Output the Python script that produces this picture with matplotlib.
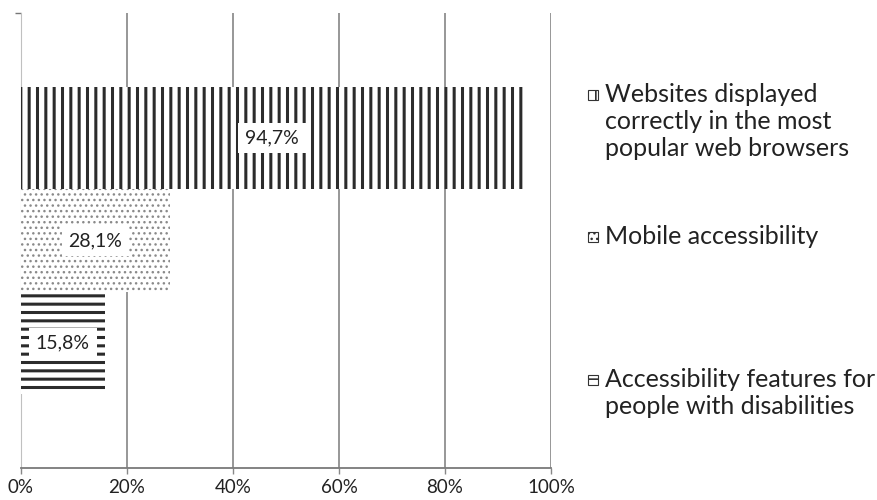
import matplotlib
matplotlib.use("Agg")
import matplotlib.pyplot as plt
from matplotlib.patches import Rectangle

# Data
series = [
    "Websites displayed\ncorrectly in the most\npopular web browsers",
    "Mobile accessibility",
    "Accessibility features for\npeople with disabilities",
]
values = [94.7, 28.1, 15.8]
value_labels = ["94,7%", "28,1%", "15,8%"]
xticks = [0, 20, 40, 60, 80, 100]
xtick_labels = ["0%", "20%", "40%", "60%", "80%", "100%"]

# Styles per series
hatches = ["||", "...", "--"]
hatch_colors = ["#2b2b2b", "#8a8a8a", "#2b2b2b"]
hatch_widths = [2.2, 1.0, 2.2]
offsets = [0.225, 0.0, -0.225]
bar_h = 0.225

plt.rcParams["font.family"] = ["Lato", "DejaVu Sans"]

fig = plt.figure(figsize=(8.78, 5.0), dpi=100)
ax = fig.add_axes([21 / 878, 32 / 500, 530 / 878, 455 / 500])

for v, off, h, hc, hw, lab in zip(values, offsets, hatches, hatch_colors,
                                  hatch_widths, value_labels):
    with plt.rc_context({"hatch.linewidth": hw, "hatch.color": hc}):
        bars = ax.barh(off, v, height=bar_h, color="white", edgecolor=hc,
                       linewidth=0, hatch=h, zorder=3)
        for b in bars:
            if hasattr(b, "set_hatch_linewidth"):
                b.set_hatch_linewidth(hw)
    ax.text(v / 2, off, lab, ha="center", va="center", fontsize=14,
            color="#222222", zorder=5,
            bbox=dict(boxstyle="square,pad=0.35", fc="white", ec="none"))

ax.set_xlim(0, 100)
ax.set_ylim(-0.5, 0.5)
ax.set_xticks(xticks)
ax.set_xticklabels(xtick_labels, fontsize=13.5, color="#222222")
ax.set_yticks([0.5])
ax.set_yticklabels([])
ax.tick_params(axis="y", length=4, color="#777777", width=1)
ax.tick_params(axis="x", length=4, color="#888888", width=1, pad=4)

for x in xticks[1:]:
    ax.axvline(x, color="#858585", lw=1.2, zorder=1)

for s in ["top", "right"]:
    ax.spines[s].set_visible(False)
ax.spines["left"].set_color("#c0c0c0")
ax.spines["bottom"].set_color("#7a7a7a")
ax.spines["bottom"].set_linewidth(1.3)

# Legend drawn beside the axes
legend_y = [95, 237, 380]
for lab, h, hc, hw, y in zip(series, hatches, hatch_colors, hatch_widths, legend_y):
    with plt.rc_context({"hatch.linewidth": min(hw, 1.2), "hatch.color": hc}):
        r = Rectangle((588 / 878, 1 - (y + 5) / 500), 10 / 878, 10 / 500,
                      transform=fig.transFigure, fc="white", ec="#333333",
                      lw=0.8, hatch=h)
        fig.add_artist(r)
    fig.text(605 / 878, 1 - (y - 12) / 500, lab, ha="left", va="top",
             fontsize=18, color="#222222", linespacing=1.22)

fig.savefig("out.png", dpi=100)
